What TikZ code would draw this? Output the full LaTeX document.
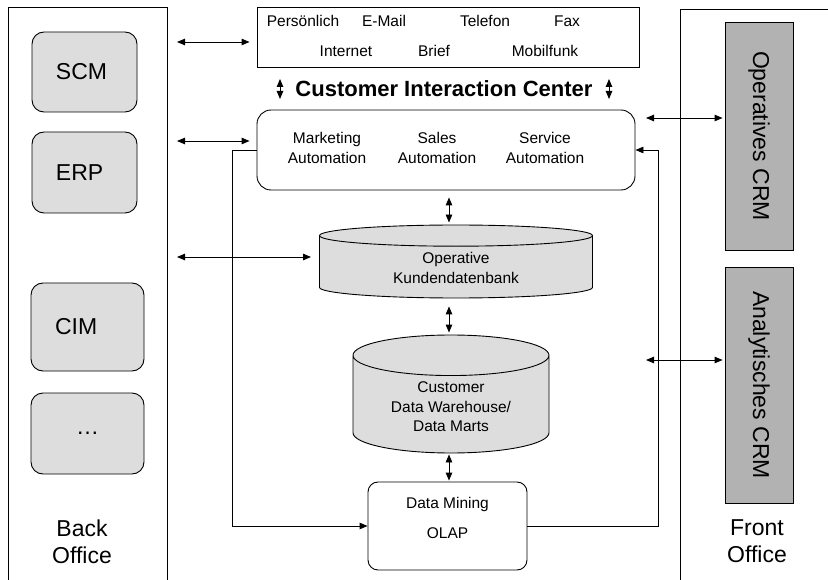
\documentclass[tikz,border=0pt]{standalone}
\usepackage{fontspec}
\setmainfont{Liberation Sans}
\usetikzlibrary{arrows.meta,positioning,shapes.geometric}
\definecolor{hell}{RGB}{221,221,221}
\definecolor{dunkel}{RGB}{178,178,178}

\begin{document}
\begin{tikzpicture}[x=1pt,y=-1pt,line width=.9pt,font=\fontsize{15.5}{20}\selectfont,
 >={Triangle[length=8pt,width=6.5pt]},
 sys/.style={draw,rounded corners=12pt,fill=hell,inner xsep=24pt,align=left,font=\fontsize{23}{26}\selectfont},
 crm/.style={draw,fill=dunkel,rotate=-90,minimum height=68pt,font=\fontsize{23}{26}\selectfont},
 db/.style={draw,cylinder,shape border rotate=90,anchor=shape center,fill=hell,align=center,font=\fontsize{15.5}{19.5}\selectfont},
 tx/.style={anchor=base},
 txt/.style={align=center,font=\fontsize{15.5}{20}\selectfont},
 big/.style={align=center,font=\fontsize{23}{26.5}\selectfont}]
\useasboundingbox (0,0) rectangle (828,580);
% back office
\draw (8,580) |- (167,7) -- (167,580);
\node[sys,text width=57pt,minimum height=80pt] (scm) at (84.5,72) {SCM};
\node[sys,text width=57pt,minimum height=81pt] (erp) at (84.5,172.5) {ERP};
\node[sys,text width=65pt,minimum height=88pt] (cim) at (87.5,327) {CIM};
\node[sys,text width=65pt,minimum height=81pt,align=center] (etc) at (87.5,433.5) {…};
\node[big] (bo) at (82,542) {Back\\Office};
% channels
\node[draw,minimum width=382pt,minimum height=60pt] (kanal) at (448,37) {};
\node[tx] (pers) at (303,27) {Persönlich};\node[tx] (mail) at (384,27) {E-Mail};
\node[tx] (tel) at (485,27) {Telefon};\node[tx] (fax) at (567,27) {Fax};
\node[tx] (inet) at (346,57) {Internet};\node[tx] (brief) at (434,57) {Brief};
\node[tx] (mobil) at (545,57) {Mobilfunk};
\node[tx,font=\fontsize{22}{26}\selectfont\bfseries] (cic) at (444,97) {Customer Interaction Center};
\coordinate (c1) at (280,79);\coordinate (c2) at (280,99);
\coordinate (c3) at (609,79);\coordinate (c4) at (609,99);
\draw[<->] (c1)--(c2);\draw[<->] (c3)--(c4);
% automation
\node[draw,rounded corners=14pt,minimum width=378pt,minimum height=80pt] (auto) at (446,150) {};
\node[txt] (mkt) at (327,147.5) {Marketing\\Automation};
\node[txt] (sales) at (437,147.5) {Sales\\Automation};
\node[txt] (serv) at (545,147.5) {Service\\Automation};
% databases
\node[db,minimum width=273pt,minimum height=73pt,aspect=.16] (kdb) at (456,261.5) {Operative\\Kundendatenbank};
\node[db,minimum width=196pt,minimum height=118pt,aspect=.32] (dwh) at (451,394) {Customer\\Data Warehouse/\\Data Marts};
\node[draw,rounded corners=10pt,minimum width=159pt,minimum height=88pt] (dm) at (447.5,526) {};
\node[align=center,font=\fontsize{15.5}{30}\selectfont] (dmtx) at (447.5,518) {Data Mining\\OLAP};
% front office
\draw (680,580) |- (828,9);
\node[crm,minimum width=228pt] (ops) at (759,136) {Operatives CRM};
\node[crm,minimum width=236pt] (ana) at (759,385) {Analytisches CRM};
\node[big] (fo) at (757,541) {Front\\Office};
% arrows
\coordinate (l1) at (177,42);\draw[<->,shorten >=7pt] (l1) -- (l1 -| kanal.west);
\coordinate (l2) at (177,141);\draw[<->,shorten >=7pt] (l2) -- (l2 -| auto.west);
\coordinate (l3) at (177,257);\draw[<->,shorten >=8pt] (l3) -- (l3 -| kdb.west);
\coordinate (r1) at (646,118);\draw[<->,shorten >=2pt] (r1) -- (r1 -| ops.south);
\coordinate (r2) at (646,360);\draw[<->,shorten >=2pt] (r2) -- (r2 -| ana.south);
\coordinate (m) at (449,0);
\draw[<->,shorten <=7pt,shorten >=2pt] (m |- auto.south) -- (m |- kdb.north);
\draw[<->,shorten <=8pt,shorten >=2pt] (m |- kdb.south) -- (m |- dwh.north);
\draw[<->,shorten <=1pt,shorten >=1pt] (m |- dwh.south) -- (m |- dm.north);
\coordinate (ll) at (232,526);\draw[->] (auto.west) -| (ll) -- (dm.west);
\coordinate (rl) at (658,150);\draw[->] (dm.east) -| (rl) -- (auto.east);
\end{tikzpicture}
\end{document}
